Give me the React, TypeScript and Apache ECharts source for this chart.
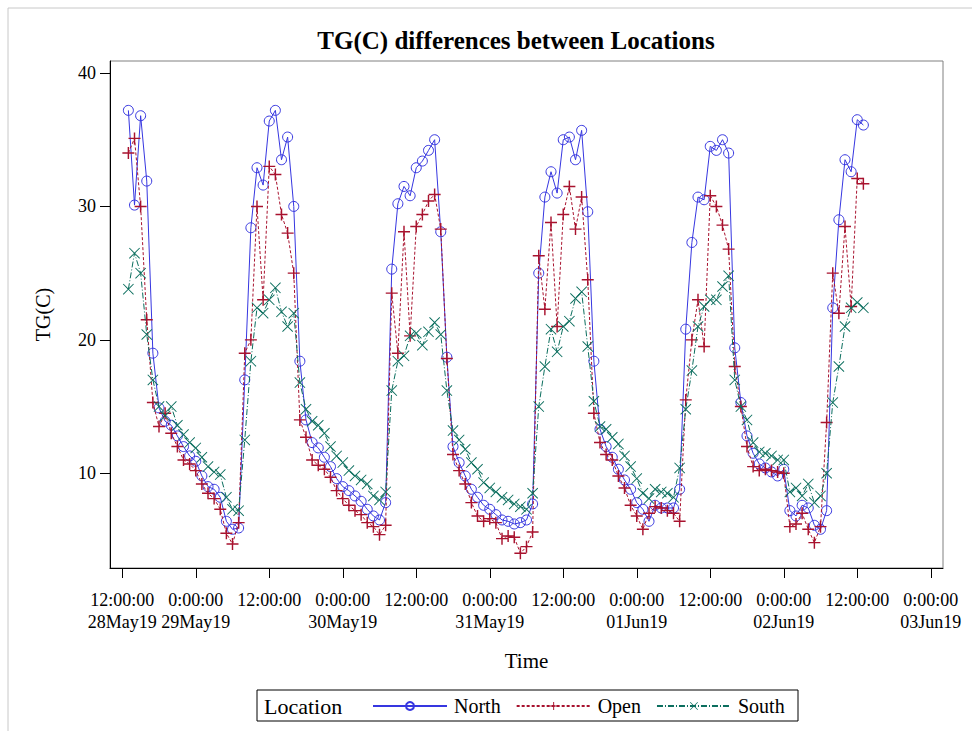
import React, { useEffect, useRef } from "react";
import * as echarts from "echarts";

// First reading at 28May19 13:00, one reading per hour (x = hours after 28May19 0:00:00)
const firstHour = 13;
const stepHours = 1;

const north = [
  37.2, 30.1, 36.8, 31.9, 19.0, 14.9, 13.9, 13.6, 12.8, 12.0, 11.3, 10.9,
  9.8, 9.0, 8.8, 8.2, 6.4, 5.8, 5.9, 17.0, 28.4, 32.9, 31.6, 36.4,
  37.2, 33.5, 35.2, 30.0, 18.4, 14.0, 12.3, 11.9, 11.2, 10.5, 9.6, 9.0,
  8.7, 8.3, 7.9, 7.3, 6.8, 6.5, 7.8, 25.3, 30.2, 31.5, 30.8, 32.9,
  33.4, 34.2, 35.0, 28.1, 18.7, 12.0, 10.8, 9.8, 8.8, 8.2, 7.6, 7.3,
  6.9, 6.5, 6.4, 6.2, 6.3, 6.5, 7.7, 25.0, 30.7, 32.6, 31.0, 35.0,
  35.2, 33.5, 35.7, 29.6, 18.4, 13.3, 12.0, 11.2, 10.3, 9.5, 8.8, 7.8,
  7.3, 6.4, 7.6, 7.4, 7.4, 7.4, 8.8, 20.8, 27.3, 30.7, 30.5, 34.5,
  34.2, 35.0, 34.0, 19.4, 15.3, 12.8, 11.5, 10.7, 10.4, 10.1, 9.8, 10.3,
  7.2, 6.8, 7.6, 7.4, 6.1, 5.8, 7.2, 22.4, 29.0, 33.5, 32.6, 36.5, 36.1,
];

const open = [
  34.0, 35.1, 30.0, 21.5, 15.3, 13.5, 14.5, 13.0, 12.0, 11.0, 10.7, 10.2,
  9.2, 8.5, 8.1, 7.3, 5.5, 4.7, 6.3, 19.0, 20.0, 30.0, 23.0, 33.0,
  32.4, 29.4, 28.0, 25.0, 14.0, 12.7, 11.0, 10.6, 10.3, 9.7, 8.7, 8.1,
  7.6, 7.2, 6.9, 6.3, 6.0, 5.4, 6.1, 23.5, 19.0, 28.1, 20.3, 28.5,
  29.4, 30.4, 30.9, 28.3, 18.6, 11.4, 10.2, 9.2, 7.8, 6.8, 6.4, 6.6,
  6.3, 5.1, 5.3, 5.2, 4.0, 4.5, 5.6, 26.3, 22.3, 28.8, 21.0, 29.4,
  31.5, 28.3, 30.7, 24.5, 14.5, 12.3, 11.4, 11.0, 9.8, 8.9, 7.6, 6.8,
  5.8, 7.0, 7.5, 7.4, 7.2, 7.0, 6.4, 15.5, 20.0, 23.0, 19.5, 30.8,
  30.0, 28.6, 26.8, 18.0, 15.0, 12.0, 10.5, 10.2, 10.3, 10.2, 10.1, 10.0,
  6.0, 6.2, 7.0, 5.8, 4.8, 6.0, 13.8, 25.0, 22.0, 28.5, 22.5, 32.1, 31.7,
];

const south = [
  23.8, 26.5, 25.0, 20.4, 17.0, 15.0, 14.3, 15.0, 13.6, 12.9, 12.3, 11.9,
  11.2, 10.5, 10.1, 9.9, 8.2, 7.3, 7.2, 12.5, 18.4, 22.4, 22.0, 23.0,
  23.9, 22.1, 21.0, 22.0, 16.8, 14.8, 13.9, 13.6, 13.0, 12.0, 11.3, 10.8,
  10.2, 9.8, 9.5, 9.2, 8.3, 8.0, 8.6, 16.2, 18.4, 18.8, 20.3, 20.5,
  19.6, 20.6, 21.3, 20.4, 16.2, 13.2, 12.5, 11.8, 10.8, 10.3, 9.3, 8.9,
  8.6, 8.2, 8.0, 7.7, 7.5, 7.3, 8.5, 15.0, 18.0, 20.8, 19.1, 21.0,
  21.4, 23.1, 23.6, 19.5, 15.4, 13.5, 13.3, 12.7, 12.2, 11.3, 10.5, 9.6,
  8.5, 8.1, 8.8, 8.6, 8.5, 8.2, 10.4, 14.8, 17.7, 21.0, 22.5, 23.0,
  23.0, 24.0, 24.8, 17.0, 15.0, 14.0, 12.3, 11.6, 11.5, 11.3, 11.0, 11.0,
  8.6, 8.9, 8.3, 9.2, 7.8, 8.3, 10.0, 15.3, 18.0, 21.0, 22.4, 22.8, 22.4,
];

const xTickHours = [12, 24, 36, 48, 60, 72, 84, 96, 108, 120, 132, 144];
const xTickLabels = [
  "12:00:00\n28May19",
  "0:00:00\n29May19",
  "12:00:00\n ",
  "0:00:00\n30May19",
  "12:00:00\n ",
  "0:00:00\n31May19",
  "12:00:00\n ",
  "0:00:00\n01Jun19",
  "12:00:00\n ",
  "0:00:00\n02Jun19",
  "12:00:00\n ",
  "0:00:00\n03Jun19",
];
const yTicks = [10, 20, 30, 40];

const PLUS =
  "path://M4.4,0L5.6,0L5.6,4.4L10,4.4L10,5.6L5.6,5.6L5.6,10L4.4,10L4.4,5.6L0,5.6L0,4.4L4.4,4.4Z";
const CROSS =
  "path://M0,0.6L0.6,0L5,4.4L9.4,0L10,0.6L5.6,5L10,9.4L9.4,10L5,5.6L0.6,10L0,9.4L4.4,5Z";

const SERIF = "'Liberation Serif', 'Times New Roman', serif";

function toPoints(vals: number[]) {
  return vals.map((v, i) => [firstHour + i * stepHours, v]);
}

export default function App() {
  const ref = useRef<HTMLDivElement>(null);
  useEffect(() => {
    if (!ref.current) return;
    const chart = echarts.init(ref.current, null, { renderer: "svg" });
    const blue = "#3636E0";
    const red = "#A8122E";
    const teal = "#0B6E5E";
    chart.setOption({
      animation: false,
      backgroundColor: "#ffffff",
      textStyle: { fontFamily: SERIF },
      grid: {
        left: 110,
        right: 29,
        top: 61,
        bottom: 163,
        show: true,
        borderColor: "#808080",
        borderWidth: 1,
      },
      xAxis: {
        type: "value",
        min: 10,
        max: 146,
        name: "Time",
        nameLocation: "middle",
        nameGap: 82,
        nameTextStyle: { fontFamily: SERIF, fontSize: 21, color: "#000" },
        axisLine: { show: true, lineStyle: { color: "#000", width: 1 } },
        axisTick: {
          show: true,
          customValues: xTickHours,
          length: 10,
          lineStyle: { color: "#000" },
        },
        axisLabel: {
          customValues: xTickHours,
          formatter: (v: number) => {
            const i = xTickHours.indexOf(Math.round(v));
            return i >= 0 ? xTickLabels[i] : "";
          },
          fontFamily: SERIF,
          fontSize: 18,
          lineHeight: 22,
          margin: 21,
          color: "#000",
        },
        splitLine: { show: false },
      },
      yAxis: {
        type: "value",
        min: 2.9,
        max: 40.9,
        name: "TG(C)",
        nameLocation: "middle",
        nameGap: 57,
        nameRotate: 90,
        nameTextStyle: { fontFamily: SERIF, fontSize: 20, color: "#000" },
        axisLine: { show: true, lineStyle: { color: "#000", width: 1 } },
        axisTick: {
          show: true,
          customValues: yTicks,
          length: 10,
          lineStyle: { color: "#000" },
        },
        axisLabel: {
          customValues: yTicks,
          fontFamily: SERIF,
          fontSize: 18,
          margin: 14,
          color: "#000",
        },
        splitLine: { show: false },
      },
      legend: {
        data: ["North", "Open", "South"],
        left: 372,
        top: 696,
        itemWidth: 74,
        itemHeight: 10,
        itemGap: 15,
        padding: 0,
        textStyle: {
          fontFamily: SERIF,
          fontSize: 20,
          color: "#000",
          padding: [0, 0, 0, 2],
        },
      },
      graphic: [
        {
          type: "rect",
          shape: { x: 8, y: 8, width: 1000, height: 800 },
          style: { fill: "none", stroke: "#c8c8c8", lineWidth: 1 },
          silent: true,
        },
        {
          type: "text",
          x: 516,
          y: 40,
          style: {
            text: "TG(C) differences between Locations",
            font: `bold 25px ${SERIF}`,
            fill: "#000",
            textAlign: "center",
            textVerticalAlign: "middle",
          },
        },
        {
          type: "rect",
          shape: { x: 257, y: 690, width: 541, height: 31 },
          style: { fill: "none", stroke: "#000", lineWidth: 1 },
          silent: true,
        },
        {
          type: "text",
          x: 264,
          y: 706,
          style: {
            text: "Location",
            font: `22px ${SERIF}`,
            fill: "#000",
            textAlign: "left",
            textVerticalAlign: "middle",
          },
        },
      ],
      series: [
        {
          name: "North",
          type: "line",
          data: toPoints(north),
          symbol: "circle",
          symbolSize: 10,
          color: blue,
          lineStyle: { color: blue, width: 1, type: "solid" },
          itemStyle: { color: "rgba(255,255,255,0)", borderColor: blue, borderWidth: 1 },
          z: 3,
        },
        {
          name: "Open",
          type: "line",
          data: toPoints(open),
          symbol: PLUS,
          symbolSize: 12,
          color: red,
          lineStyle: { color: red, width: 1, type: [3, 2] },
          itemStyle: { color: red, borderWidth: 0 },
          z: 4,
        },
        {
          name: "South",
          type: "line",
          data: toPoints(south),
          symbol: CROSS,
          symbolSize: 11,
          color: teal,
          lineStyle: { color: teal, width: 1, type: [6, 2, 1, 2] },
          itemStyle: { color: teal, borderWidth: 0 },
          z: 5,
        },
      ],
    });
    return () => chart.dispose();
  }, []);
  return (
    <div
      ref={ref}
      style={{ position: "absolute", left: 0, top: 0, width: 972, height: 731 }}
    />
  );
}
